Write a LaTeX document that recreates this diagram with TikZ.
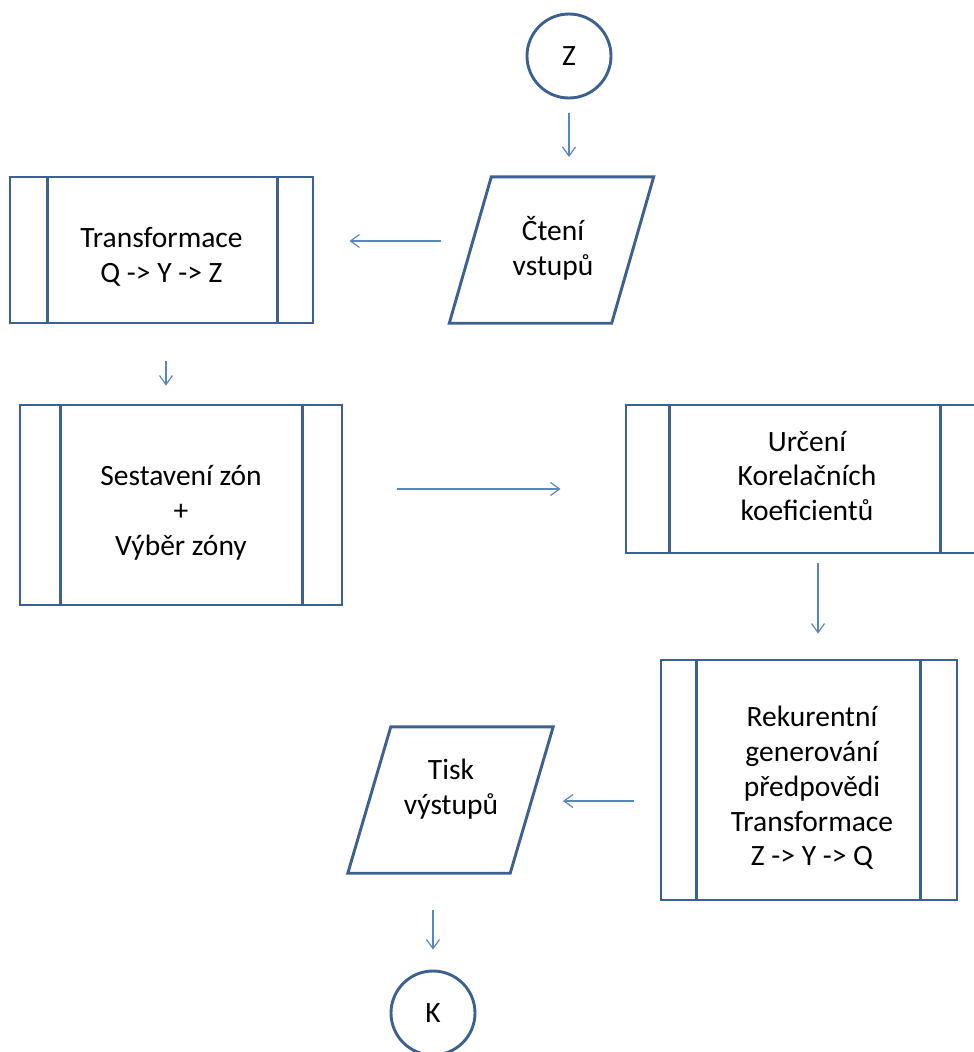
\documentclass[tikz,border=0pt]{standalone}
\usepackage{fontspec}
\setmainfont{Carlito}
\usetikzlibrary{arrows.meta,calc}
\definecolor{bcol}{HTML}{3C6190}
\definecolor{acol}{HTML}{5A86BE}
\begin{document}
\begin{tikzpicture}[x=1pt,y=-1pt,
  lbl/.style={font=\fontsize{29.5}{34.8}\selectfont, align=center, inner sep=0pt, text=black},
  procbox/.style={draw=bcol, line width=2.9pt, rectangle, inner sep=0pt},
  bline/.style={draw=bcol, line width=2.9pt, line join=miter},
  iobox/.style={rectangle, minimum width=162pt, minimum height=146pt, inner sep=0pt},
  term/.style={draw=bcol, line width=2.9pt, circle, minimum size=84pt, inner sep=0pt, lbl},
  arr/.style={draw=acol, line width=1.2pt, -{Straight Barb[length=9pt,width=13pt]}}
]
\useasboundingbox (0,0) rectangle (974,1052);

% terminals
\node[term] (Z) at (569,56) {Z};
\node[term] (K) at (433,1013) {K};

% input / output (parallelograms)
\node[iobox] (read) at (551.5,250) {};
\draw[bline] ([xshift=21pt]read.north west) -- ([xshift=21pt]read.north east)
  -- ([xshift=-21pt]read.south east) -- ([xshift=-21pt]read.south west) -- cycle;
\node[lbl] (readt) at (553,248) {Čtení\\vstupů};

\node[iobox] (tisk) at (450.5,800) {};
\draw[bline] ([xshift=21.5pt]tisk.north west) -- ([xshift=21.5pt]tisk.north east)
  -- ([xshift=-21.5pt]tisk.south east) -- ([xshift=-21.5pt]tisk.south west) -- cycle;
\node[lbl] (tiskt) at (451,789.5) {Tisk\\výstupů};

% predefined processes
\node[procbox, minimum width=303pt, minimum height=146pt] (trans) at (161.5,250) {};
\draw[bline] ([xshift=39pt]trans.north west) -- ([xshift=39pt]trans.south west);
\draw[bline] ([xshift=-37pt]trans.north east) -- ([xshift=-37pt]trans.south east);
\node[lbl] (transt) at (161.5,257) {Transformace\\Q -> Y -> Z};

\node[procbox, minimum width=322pt, minimum height=200pt] (sest) at (181,505) {};
\draw[bline] ([xshift=42pt]sest.north west) -- ([xshift=42pt]sest.south west);
\draw[bline] ([xshift=-41pt]sest.north east) -- ([xshift=-41pt]sest.south east);
\node[lbl] (sestt) at (181,513) {Sestavení zón\\+\\Výběr zóny};

\node[procbox, minimum width=358pt, minimum height=148pt] (det) at (805,479) {};
\draw[bline] ([xshift=45pt]det.north west) -- ([xshift=45pt]det.south west);
\draw[bline] ([xshift=-45pt]det.north east) -- ([xshift=-45pt]det.south east);
\node[lbl] (dett) at (807,476) {Určení\\Korelačních\\koeficientů};

\node[procbox, minimum width=296pt, minimum height=240pt] (rek) at (809,780) {};
\draw[bline] ([xshift=37pt]rek.north west) -- ([xshift=37pt]rek.south west);
\draw[bline] ([xshift=-38pt]rek.north east) -- ([xshift=-38pt]rek.south east);
\node[lbl] (rekt) at (812,788) {Rekurentní\\generování\\předpovědi\\Transformace\\Z -> Y -> Q};

% connectors
\draw[arr, shorten <=14pt, shorten >=93pt] (Z.south) -- (Z.south |- read.center);
\coordinate (c2) at ($(read.center)+(0,-9)$);
\draw[arr, shorten <=110.5pt, shorten >=35pt] (c2) -- (c2 -| trans.east);
\coordinate (c3) at ($(trans.south)+(4.5,0)$);
\draw[arr, shorten <=37pt, shorten >=18pt] (c3) -- (c3 |- sest.north);
\coordinate (c4) at ($(sest.east)+(0,-16)$);
\draw[arr, shorten <=54pt, shorten >=64pt] (c4) -- (c4 -| det.west);
\coordinate (c5) at ($(det.south)+(13,0)$);
\draw[arr, shorten <=9pt, shorten >=25pt] (c5) -- (c5 |- rek.north);
\coordinate (c6) at ($(rek.west)+(0,21)$);
\draw[arr, shorten <=26pt, shorten >=112.5pt] (c6) -- (c6 -| tisk.center);
\draw[arr, shorten <=110pt, shorten >=20pt] (K.north |- tisk.center) -- (K.north);
\end{tikzpicture}
\end{document}
